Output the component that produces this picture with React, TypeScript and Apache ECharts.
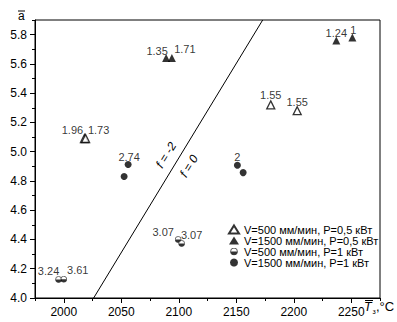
import React, { useEffect, useRef } from "react";
import * as echarts from "echarts";

// ---- data ----
const openTriX = [2018, 2019, 2180, 2203];
const openTriY = [5.09, 5.09, 5.32, 5.28];
const openTriLabels = ["1.96", "1.73", "1.55", "1.55"];

const filledTriX = [2089, 2094, 2237, 2251];
const filledTriY = [5.64, 5.64, 5.76, 5.78];
const filledTriLabels = ["1.35", "1.71", "1.24", "1"];

const halfCircX = [1995.5, 2000, 2099.5, 2102.5];
const halfCircY = [4.127, 4.128, 4.4, 4.373];
const halfCircLabels = ["3.24", "3.61", "3.07", "3.07"];

const filledCircX = [2052.5, 2056, 2151, 2156];
const filledCircY = [4.83, 4.913, 4.907, 4.857];
const filledCircLabels = ["", "2.74", "2", ""];

const boundaryX = [2026, 2173];
const boundaryY = [4.0, 5.9];

const seriesNames = [
  "V=500 мм/мин, P=0,5 кВт",
  "V=1500 мм/мин, P=0,5 кВт",
  "V=500 мм/мин, P=1 кВт",
  "V=1500 мм/мин, P=1 кВт",
];

const xMajor = [2000, 2050, 2100, 2150, 2200, 2250];
const xMinor = [1975, 2025, 2075, 2125, 2175, 2225, 2275];
const yMajor = [4.0, 4.2, 4.4, 4.6, 4.8, 5.0, 5.2, 5.4, 5.6, 5.8];
const yMinor = [4.1, 4.3, 4.5, 4.7, 4.9, 5.1, 5.3, 5.5, 5.7, 5.9];

// label offsets (style only)
const openTriOff = [[-12, 1.5], [13, 1.5], [0, 0], [0, 1]];
const filledTriOff = [[-9, 2], [13, 0], [0, 2], [1, 1.5]];
const halfCircOff = [[-10, 0.5], [14, 0], [-15, 1.5], [10, 0.5]];
const filledCircOff = [[0, 0], [1, 1.5], [0, 0.5], [0, 0]];

const FONT = "Liberation Sans, Arial, sans-serif";

const halfSvg =
  "<svg xmlns='http://www.w3.org/2000/svg' width='20' height='20' viewBox='0 0 20 20'>" +
  "<circle cx='10' cy='10' r='8.6' fill='white' stroke='black' stroke-width='2'/>" +
  "<path d='M1.4 10 A8.6 8.6 0 0 0 18.6 10 Z' fill='black'/></svg>";
const halfSymbol = "image://data:image/svg+xml;utf8," + encodeURIComponent(halfSvg);

function buildData(xs: number[], ys: number[], labels: string[], offs: number[][]) {
  return xs.map((x, i) => ({
    value: [x, ys[i]],
    label: {
      show: labels[i] !== "",
      formatter: labels[i],
      position: "top",
      distance: 0,
      offset: offs[i],
    },
  }));
}

export default function App() {
  const ref = useRef<HTMLDivElement>(null);
  useEffect(() => {
    if (!ref.current) return;
    document.body.style.margin = "0";
    const chart = echarts.init(ref.current, null, { renderer: "svg" });
    const labelStyle = { color: "#000", fontSize: 11, fontFamily: FONT };
    const axisCommon = {
      type: "value" as const,
      splitLine: { show: false },
    };
    chart.setOption({
      animation: false,
      backgroundColor: "#fff",
      textStyle: { fontFamily: FONT },
      grid: {
        left: 35,
        right: 17,
        top: 20,
        bottom: 24,
        show: true,
        borderColor: "#000",
        borderWidth: 1,
      },
      legend: {
        orient: "vertical",
        left: 228,
        top: 224,
        padding: 0,
        itemWidth: 10,
        itemHeight: 8,
        itemGap: 0,
        data: seriesNames,
        textStyle: { fontSize: 11, color: "#000", fontFamily: FONT },
      },
      xAxis: [
        {
          ...axisCommon,
          min: 1975,
          max: 2275,
          axisLine: { show: true, lineStyle: { color: "#000", width: 1 } },
          axisTick: { show: true, length: 5, customValues: xMajor, lineStyle: { color: "#000" } },
          axisLabel: {
            customValues: xMajor,
            color: "#000",
            fontSize: 12,
            margin: 8,
            fontFamily: FONT,
            formatter: (v: number) => String(v),
          },
        },
        {
          ...axisCommon,
          position: "bottom",
          min: 1975,
          max: 2275,
          axisLine: { show: false },
          axisTick: { show: true, length: 3, customValues: xMinor, lineStyle: { color: "#000" } },
          axisLabel: { show: false },
        },
      ],
      yAxis: [
        {
          ...axisCommon,
          min: 4.0,
          max: 5.9,
          axisLine: { show: true, lineStyle: { color: "#000", width: 1 } },
          axisTick: { show: true, length: 5, customValues: yMajor, lineStyle: { color: "#000" } },
          axisLabel: {
            customValues: yMajor,
            color: "#000",
            fontSize: 12,
            margin: 8,
            fontFamily: FONT,
            formatter: (v: number) => v.toFixed(1),
          },
        },
        {
          ...axisCommon,
          position: "left",
          min: 4.0,
          max: 5.9,
          axisLine: { show: false },
          axisTick: { show: true, length: 3, customValues: yMinor, lineStyle: { color: "#000" } },
          axisLabel: { show: false },
        },
      ],
      series: [
        {
          name: "boundary",
          type: "line",
          data: boundaryX.map((x, i) => [x, boundaryY[i]]),
          symbol: "none",
          lineStyle: { color: "#000", width: 1 },
          z: 1,
        },
        {
          name: seriesNames[0],
          type: "scatter",
          symbol: "triangle",
          symbolSize: 8,
          itemStyle: { color: "#fff", borderColor: "#000", borderWidth: 1.3 },
          label: labelStyle,
          data: buildData(openTriX, openTriY, openTriLabels, openTriOff),
          z: 3,
        },
        {
          name: seriesNames[1],
          type: "scatter",
          symbol: "triangle",
          symbolSize: 8,
          itemStyle: { color: "#000" },
          label: labelStyle,
          data: buildData(filledTriX, filledTriY, filledTriLabels, filledTriOff),
          z: 3,
        },
        {
          name: seriesNames[2],
          type: "scatter",
          symbol: halfSymbol,
          symbolSize: 7,
          label: labelStyle,
          data: buildData(halfCircX, halfCircY, halfCircLabels, halfCircOff),
          z: 3,
        },
        {
          name: seriesNames[3],
          type: "scatter",
          symbol: "circle",
          symbolSize: 7,
          itemStyle: { color: "#000" },
          label: labelStyle,
          data: buildData(filledCircX, filledCircY, filledCircLabels, filledCircOff),
          z: 3,
        },
      ],
      graphic: [
        { type: "text", x: 18, y: 10, style: { text: "a", fontSize: 12, fontFamily: FONT, fill: "#000" } },
        { type: "line", shape: { x1: 18, y1: 11, x2: 25, y2: 11 }, style: { stroke: "#000", lineWidth: 1 } },
        { type: "text", x: 364, y: 300, style: { text: "T", fontSize: 12.5, fontStyle: "italic", fontFamily: FONT, fill: "#000" } },
        { type: "line", shape: { x1: 365, y1: 300.5, x2: 373, y2: 300.5 }, style: { stroke: "#000", lineWidth: 1 } },
        { type: "text", x: 372.5, y: 308, style: { text: "з", fontSize: 7, fontFamily: FONT, fill: "#000" } },
        { type: "text", x: 376, y: 300, style: { text: ",°C", fontSize: 13, fontFamily: FONT, fill: "#000" } },
        {
          type: "text",
          x: 166,
          y: 155,
          rotation: (58.5 * Math.PI) / 180,
          style: {
            text: "f = -2",
            fontSize: 12,
            fontStyle: "italic",
            fontFamily: FONT,
            fill: "#000",
            align: "center",
            verticalAlign: "middle",
          },
        },
        {
          type: "text",
          x: 189,
          y: 166,
          rotation: (58.5 * Math.PI) / 180,
          style: {
            text: "f = 0",
            fontSize: 12,
            fontStyle: "italic",
            fontFamily: FONT,
            fill: "#000",
            align: "center",
            verticalAlign: "middle",
          },
        },
      ],
    });
    return () => chart.dispose();
  }, []);
  return (
    <div
      ref={ref}
      style={{ position: "absolute", left: 0, top: 0, width: 397, height: 322 }}
    />
  );
}
